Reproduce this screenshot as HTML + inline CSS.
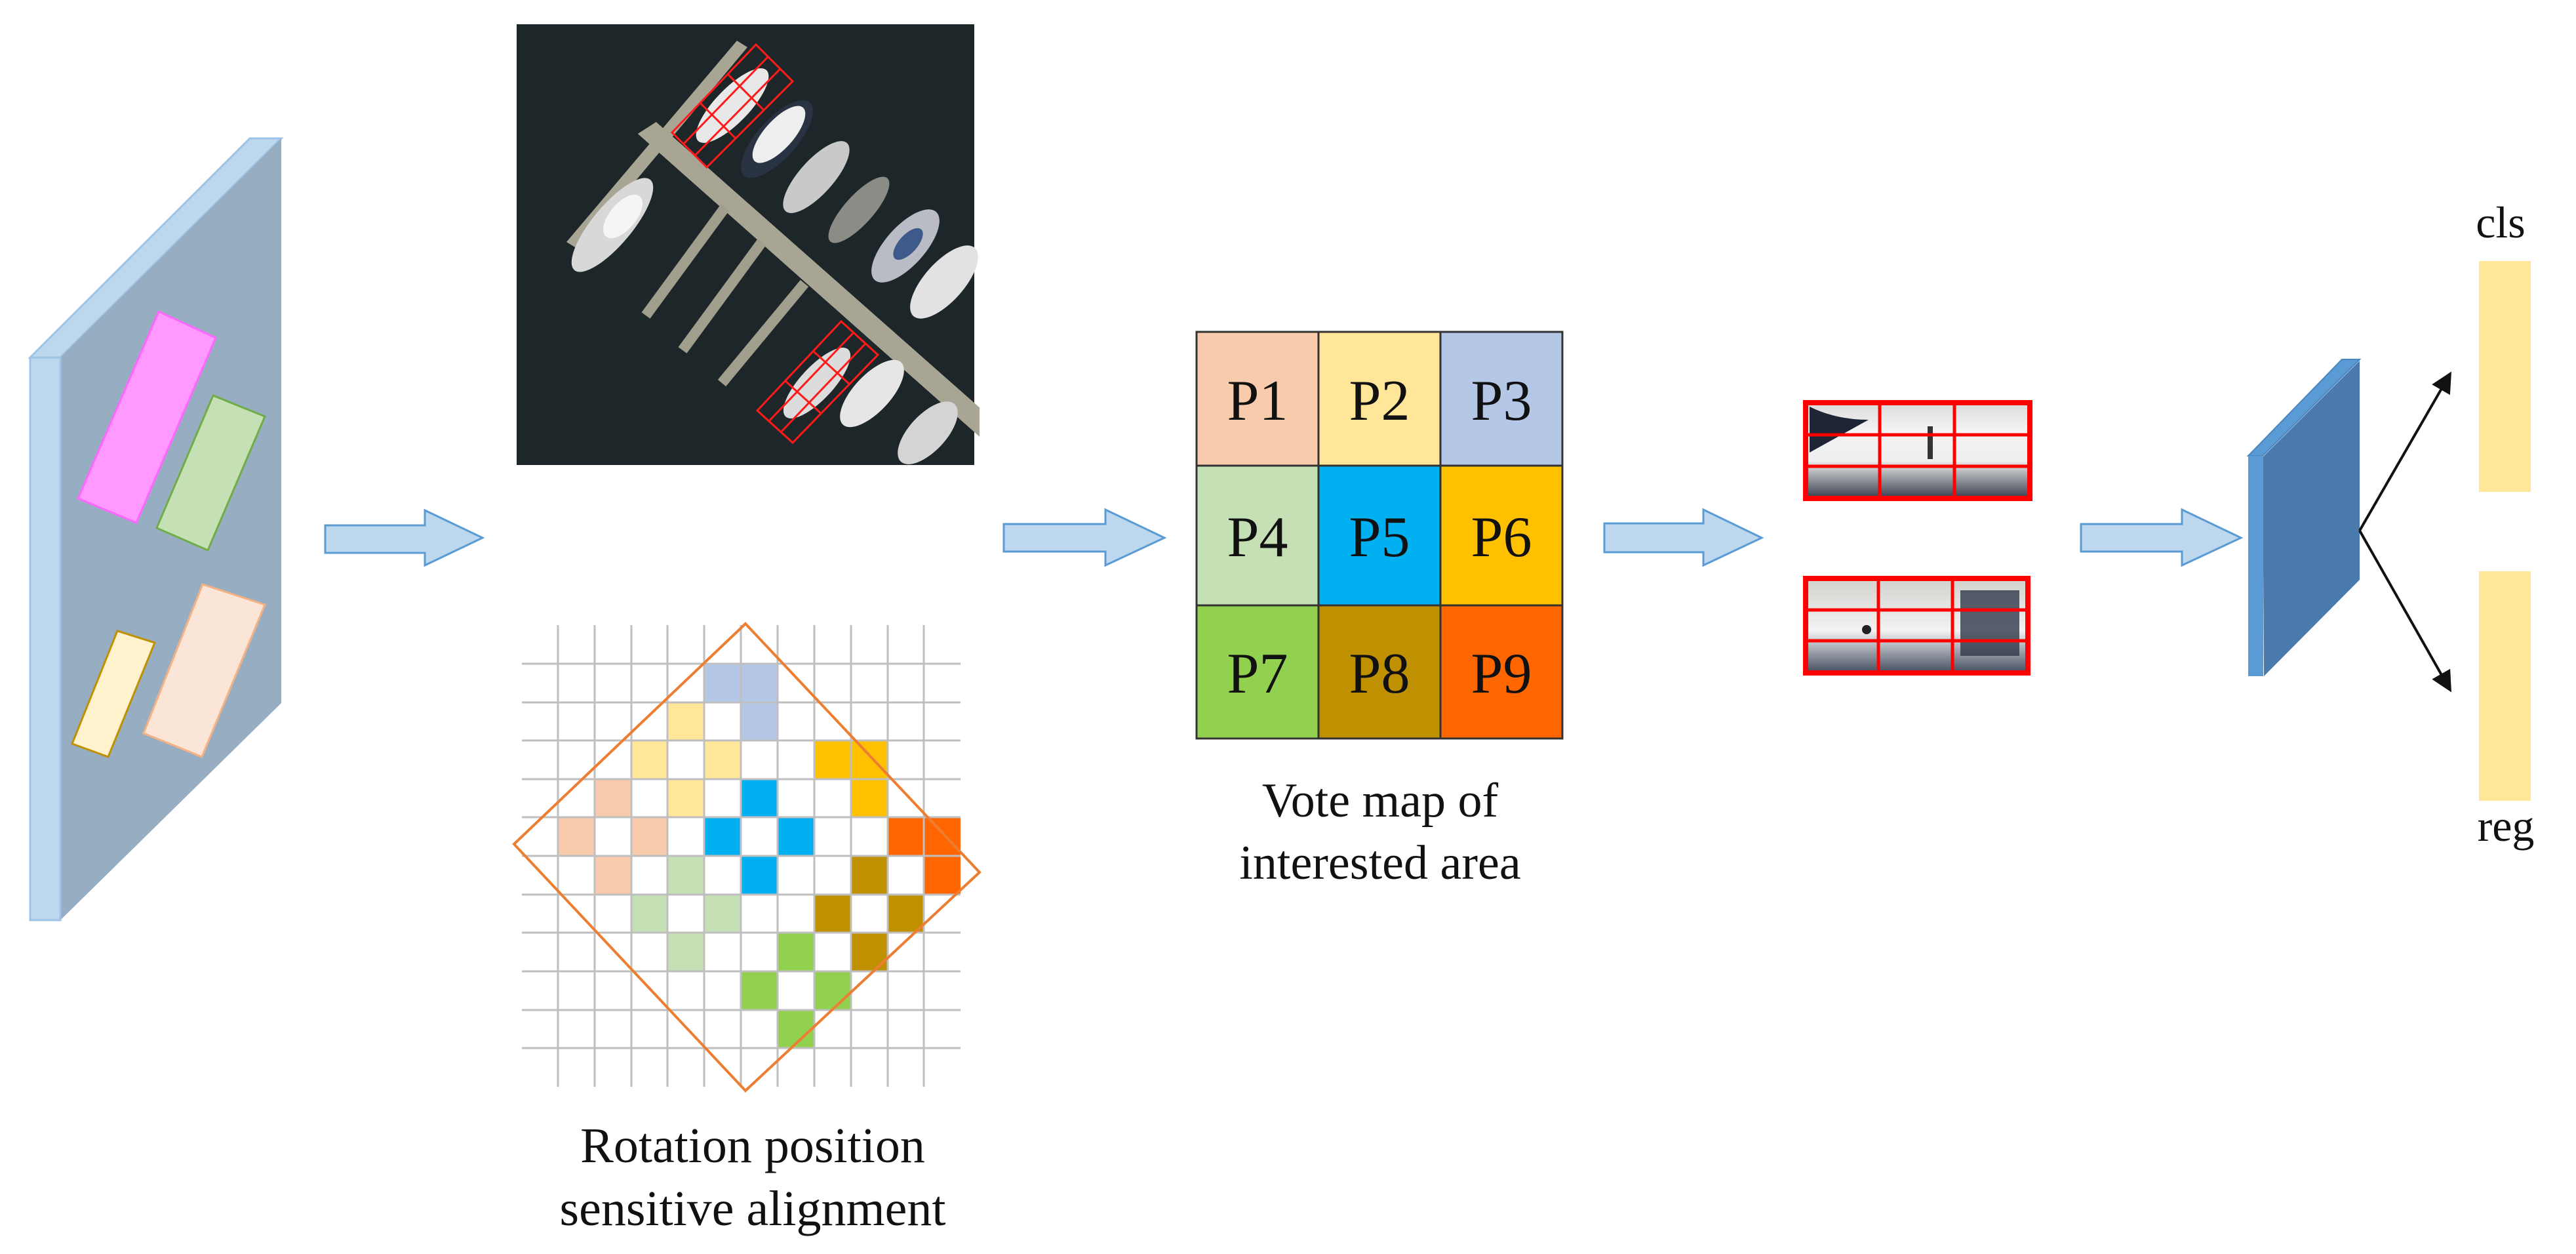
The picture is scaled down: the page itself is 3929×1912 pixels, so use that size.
<!DOCTYPE html>
<html><head><meta charset="utf-8"><style>
html,body{margin:0;padding:0;background:#fff;}
svg{display:block;}
text{font-family:"Liberation Serif",serif;fill:#111;}
</style></head><body>
<svg width="3929" height="1912" viewBox="0 0 3929 1912" xmlns="http://www.w3.org/2000/svg">
<defs>
<marker id="ah" markerWidth="8" markerHeight="8" refX="7" refY="4" orient="auto" markerUnits="strokeWidth"><path d="M0,0 L8,4 L0,8 Z" fill="#111"/></marker>
<linearGradient id="bt" x1="0" y1="0" x2="0" y2="1"><stop offset="0" stop-color="#d8d8d8"/><stop offset="0.3" stop-color="#f4f4f4"/><stop offset="0.6" stop-color="#eee"/><stop offset="1" stop-color="#2a3040"/></linearGradient>
<linearGradient id="bb" x1="0" y1="0" x2="0" y2="1"><stop offset="0" stop-color="#d0d0cc"/><stop offset="0.55" stop-color="#f2f2f2"/><stop offset="1" stop-color="#3a4358"/></linearGradient>
</defs>

<!-- Left feature panel -->
<polygon points="46,545 381,211 429,211 92,545" fill="#bdd7ee" stroke="#9dc3e6" stroke-width="3"/>
<polygon points="92,545 429,211 429,1072 92,1403" fill="#97aec2"/>
<rect x="46" y="545" width="46" height="858" fill="#bdd7ee" stroke="#9dc3e6" stroke-width="3"/>
<polygon points="119,760 242,475 329,515 208,797" fill="#ff99ff" stroke="#ff66ff" stroke-width="3"/>
<polygon points="239,805 325,603 404,635 317,839" fill="#c5e0b4" stroke="#70ad47" stroke-width="3"/>
<polygon points="110,1134 179,962 236,980 165,1154" fill="#fff2cc" stroke="#bf9000" stroke-width="3"/>
<polygon points="219,1118 309,891 404,922 308,1154" fill="#fbe5d6" stroke="#f4b183" stroke-width="3"/>

<!-- Blue arrows -->
<g fill="#bdd7ee" stroke="#5b9bd5" stroke-width="3">
<polygon points="496,801 648,801 648,778 736,820 648,862 648,843 496,843"/>
<polygon points="1531,799 1686,799 1686,777 1776,820 1686,862 1686,841 1531,841"/>
<polygon points="2447,798 2598,798 2598,777 2687,820 2598,862 2598,842 2447,842"/>
<polygon points="3174,799 3328,799 3328,777 3418,820 3328,862 3328,841 3174,841"/>
</g>

<!-- Aerial photo -->
<rect x="788" y="37" width="698" height="672" fill="#1d2629"/>
<g>
<polygon points="864,369 1124,62 1140,72 882,380" fill="#a9a595"/>
<polygon points="986,205 1000,196 1486,625 1486,648" fill="#a9a595" stroke="#a9a595" stroke-width="16"/>
<polyline points="1106,316 985,481" stroke="#a29e8e" stroke-width="16" fill="none"/>
<polyline points="1162,369 1041,534" stroke="#a29e8e" stroke-width="16" fill="none"/>
<polyline points="1227,432 1101,584" stroke="#a29e8e" stroke-width="16" fill="none"/>
<ellipse cx="934" cy="343" rx="90" ry="30" transform="rotate(-50 934 343)" fill="#d8d8d8"/>
<ellipse cx="950" cy="330" rx="40" ry="20" transform="rotate(-50 950 330)" fill="#f5f5f5"/>
<ellipse cx="1117" cy="161" rx="75" ry="26" transform="rotate(-46 1117 161)" fill="#e8e8e8"/>
<ellipse cx="1185" cy="212" rx="75" ry="30" transform="rotate(-48 1185 212)" fill="#2a3344"/>
<ellipse cx="1188" cy="205" rx="55" ry="22" transform="rotate(-48 1188 205)" fill="#eeeeee"/>
<ellipse cx="1245" cy="270" rx="70" ry="26" transform="rotate(-48 1245 270)" fill="#c9c9c9"/>
<ellipse cx="1310" cy="320" rx="65" ry="22" transform="rotate(-48 1310 320)" fill="#8c8c86"/>
<ellipse cx="1381" cy="375" rx="70" ry="30" transform="rotate(-48 1381 375)" fill="#b9bcc4"/>
<ellipse cx="1385" cy="372" rx="30" ry="14" transform="rotate(-48 1385 372)" fill="#3d5a8a"/>
<ellipse cx="1440" cy="430" rx="70" ry="30" transform="rotate(-48 1440 430)" fill="#e2e2e2"/>
<ellipse cx="1246" cy="584" rx="70" ry="25" transform="rotate(-47 1246 584)" fill="#dcdcdc"/>
<ellipse cx="1330" cy="600" rx="65" ry="28" transform="rotate(-47 1330 600)" fill="#e6e6e6"/>
<ellipse cx="1415" cy="660" rx="60" ry="28" transform="rotate(-47 1415 660)" fill="#d4d4d4"/>
</g>
<g stroke="#ff1a1a" stroke-width="3" fill="none">
<polygon points="1025,202 1153,68 1209,124 1078,255"/>
<line x1="1043" y1="219" x2="1171" y2="87"/><line x1="1060" y1="237" x2="1190" y2="105"/>
<line x1="1068" y1="157" x2="1121" y2="210"/><line x1="1110" y1="113" x2="1164" y2="167"/>
<polygon points="1155,626 1283,490 1339,541 1209,675"/>
<line x1="1173" y1="642" x2="1302" y2="507"/><line x1="1191" y1="659" x2="1320" y2="524"/>
<line x1="1198" y1="581" x2="1253" y2="631"/><line x1="1240" y1="535" x2="1296" y2="586"/>
</g>

<!-- Rotation grid -->
<g fill="#b4c7e7"><rect x="1074" y="1012" width="56" height="59"/><rect x="1130" y="1012" width="56" height="118"/></g>
<g fill="#ffe699"><rect x="1018" y="1071" width="56" height="59"/><rect x="963" y="1129" width="56" height="59"/><rect x="1074" y="1129" width="56" height="59"/><rect x="1018" y="1188" width="56" height="59"/></g>
<g fill="#ffc000"><rect x="1242" y="1129" width="56" height="59"/><rect x="1298" y="1129" width="56" height="59"/><rect x="1298" y="1188" width="56" height="59"/></g>
<g fill="#f8cbad"><rect x="907" y="1188" width="56" height="59"/><rect x="851" y="1246" width="56" height="59"/><rect x="963" y="1246" width="56" height="59"/><rect x="907" y="1305" width="56" height="59"/></g>
<g fill="#00b0f0"><rect x="1130" y="1188" width="56" height="59"/><rect x="1074" y="1246" width="56" height="59"/><rect x="1186" y="1246" width="56" height="59"/><rect x="1130" y="1305" width="56" height="59"/></g>
<g fill="#ff6600"><rect x="1354" y="1246" width="56" height="59"/><rect x="1409" y="1246" width="56" height="118"/></g>
<g fill="#c5e0b4"><rect x="1018" y="1305" width="56" height="59"/><rect x="963" y="1364" width="56" height="59"/><rect x="1074" y="1364" width="56" height="59"/><rect x="1018" y="1422" width="56" height="59"/></g>
<g fill="#bf9000"><rect x="1298" y="1305" width="56" height="59"/><rect x="1242" y="1364" width="56" height="59"/><rect x="1354" y="1364" width="56" height="59"/><rect x="1298" y="1422" width="56" height="59"/></g>
<g fill="#92d050"><rect x="1186" y="1422" width="56" height="59"/><rect x="1130" y="1481" width="56" height="59"/><rect x="1242" y="1481" width="56" height="59"/><rect x="1186" y="1540" width="56" height="59"/></g>
<g stroke="#bfbfbf" stroke-width="3">
<line x1="851" y1="953" x2="851" y2="1657"/><line x1="907" y1="953" x2="907" y2="1657"/><line x1="963" y1="953" x2="963" y2="1657"/><line x1="1018" y1="953" x2="1018" y2="1657"/><line x1="1074" y1="953" x2="1074" y2="1657"/><line x1="1130" y1="953" x2="1130" y2="1657"/><line x1="1186" y1="953" x2="1186" y2="1657"/><line x1="1242" y1="953" x2="1242" y2="1657"/><line x1="1298" y1="953" x2="1298" y2="1657"/><line x1="1354" y1="953" x2="1354" y2="1657"/><line x1="1409" y1="953" x2="1409" y2="1657"/>
<line x1="796" y1="1012" x2="1465" y2="1012"/><line x1="796" y1="1071" x2="1465" y2="1071"/><line x1="796" y1="1129" x2="1465" y2="1129"/><line x1="796" y1="1188" x2="1465" y2="1188"/><line x1="796" y1="1246" x2="1465" y2="1246"/><line x1="796" y1="1305" x2="1465" y2="1305"/><line x1="796" y1="1364" x2="1465" y2="1364"/><line x1="796" y1="1422" x2="1465" y2="1422"/><line x1="796" y1="1481" x2="1465" y2="1481"/><line x1="796" y1="1540" x2="1465" y2="1540"/><line x1="796" y1="1598" x2="1465" y2="1598"/>
</g>
<polygon points="1137,951 1494,1330 1137,1663 784,1287" fill="none" stroke="#ed7d31" stroke-width="4"/>
<text x="1148" y="1772" font-size="76" text-anchor="middle">Rotation position</text>
<text x="1148" y="1868" font-size="76" text-anchor="middle">sensitive alignment</text>

<!-- Vote map -->
<g stroke="#333" stroke-width="3">
<rect x="1825" y="506" width="186" height="204" fill="#f8cbad"/>
<rect x="2011" y="506" width="186" height="204" fill="#ffe699"/>
<rect x="2197" y="506" width="186" height="204" fill="#b4c7e7"/>
<rect x="1825" y="710" width="186" height="213" fill="#c5e0b4"/>
<rect x="2011" y="710" width="186" height="213" fill="#00b0f0"/>
<rect x="2197" y="710" width="186" height="213" fill="#ffc000"/>
<rect x="1825" y="923" width="186" height="203" fill="#92d050"/>
<rect x="2011" y="923" width="186" height="203" fill="#bf9000"/>
<rect x="2197" y="923" width="186" height="203" fill="#ff6600"/>
</g>
<g font-size="88" text-anchor="middle">
<text x="1918" y="640">P1</text><text x="2104" y="640">P2</text><text x="2290" y="640">P3</text>
<text x="1918" y="848">P4</text><text x="2104" y="848">P5</text><text x="2290" y="848">P6</text>
<text x="1918" y="1056">P7</text><text x="2104" y="1056">P8</text><text x="2290" y="1056">P9</text>
</g>
<text x="2105" y="1245" font-size="74" text-anchor="middle">Vote map of</text>
<text x="2105" y="1340" font-size="74" text-anchor="middle">interested area</text>

<!-- Boat crops -->
<rect x="2750" y="610" width="350" height="154" fill="url(#bt)"/>
<path d="M2760,620 Q2800,640 2850,640 L2760,690 Z" fill="#1e2535"/>
<rect x="2940" y="650" width="8" height="50" fill="#333"/>
<g stroke="#ff0000" fill="none"><rect x="2754" y="614" width="342" height="146" stroke-width="8"/>
<line x1="2867" y1="614" x2="2867" y2="760" stroke-width="5"/><line x1="2981" y1="614" x2="2981" y2="760" stroke-width="5"/>
<line x1="2754" y1="663" x2="3096" y2="663" stroke-width="5"/><line x1="2754" y1="711" x2="3096" y2="711" stroke-width="5"/></g>
<rect x="2750" y="878" width="347" height="152" fill="url(#bb)"/>
<path d="M2990,900 L3080,900 L3080,1000 L2990,1000 Z" fill="#30384a" opacity="0.8"/>
<circle cx="2847" cy="960" r="7" fill="#222"/>
<g stroke="#ff0000" fill="none"><rect x="2754" y="882" width="339" height="144" stroke-width="8"/>
<line x1="2865" y1="882" x2="2865" y2="1026" stroke-width="5"/><line x1="2978" y1="882" x2="2978" y2="1026" stroke-width="5"/>
<line x1="2754" y1="930" x2="3093" y2="930" stroke-width="5"/><line x1="2754" y1="977" x2="3093" y2="977" stroke-width="5"/></g>

<!-- Blue 3D panel -->
<polygon points="3429,695 3572,548 3599,548 3451,695" fill="#5b9bd5" stroke="#4a86c0" stroke-width="2"/>
<polygon points="3451,697 3599,550 3599,884 3453,1031" fill="#4a7aab"/>
<rect x="3429" y="695" width="23" height="336" fill="#5b9bd5"/>

<!-- Black arrows -->
<line x1="3599" y1="809" x2="3737" y2="570" stroke="#111" stroke-width="4" marker-end="url(#ah)"/>
<line x1="3599" y1="809" x2="3737" y2="1052" stroke="#111" stroke-width="4" marker-end="url(#ah)"/>

<!-- Output bars -->
<rect x="3781" y="398" width="79" height="352" fill="#ffe699"/>
<rect x="3781" y="871" width="79" height="350" fill="#ffe699"/>
<text x="3814" y="362" font-size="68" text-anchor="middle">cls</text>
<text x="3822" y="1282" font-size="68" text-anchor="middle">reg</text>
</svg>
</body></html>
